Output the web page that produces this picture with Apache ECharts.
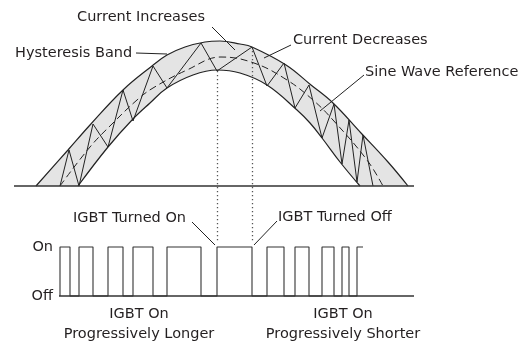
<!DOCTYPE html>
<html>
<head>
<meta charset="utf-8">
<script src="https://cdn.jsdelivr.net/npm/echarts@6/dist/echarts.min.js"></script>
<style>
  html, body { margin: 0; padding: 0; background: #fff; }
  #chart { width: 522px; height: 344px; }
</style>
</head>
<body>
<div id="chart"></div>
<script>
// x = time (arbitrary units), top panel y = current (arbitrary units), bottom panel y = IGBT state
var outerBand = [[22, 0], [54, 36], [76, 61], [109, 96], [138, 120], [153, 131], [171, 139], [191, 144],
  [206, 145], [226, 142], [238, 139], [272, 121], [297, 101], [319, 83], [347, 53], [374, 24], [394, 0]]
var innerBand = [[64, 0], [94, 39], [118, 66], [136, 83], [153, 98], [179, 111], [203, 116], [226, 113],
  [253, 101], [283, 76], [296, 63], [308, 48], [326, 24], [346, 0]]
var sineRef = [[46, 0], [76, 39], [99, 63], [123, 86], [139, 98], [173, 116], [207, 129], [240, 123],
  [273, 106], [299, 86], [319, 66], [353, 26], [369, 0]]
// actual current: rises while IGBT is on, falls while off
var currentTrace = [[46, 0], [55, 36], [65, 0], [79, 62], [94, 39], [109, 96], [119, 65], [139, 120],
  [153, 98], [187, 143], [203, 115], [238, 139], [253, 100], [270, 123], [281, 78], [295, 101],
  [308, 48], [320, 82], [328, 22], [335, 66], [343, 4], [349, 51], [359, 0]]
// on intervals [start, end]; the last one is drawn open
var pulsesOn = [[46, 56], [65, 79], [94, 109], [119, 139], [153, 187], [203, 238], [253, 270],
  [281, 295], [308, 320], [328, 335], [343, 349]]
var stateLabels = ['Off', 'On']
var offLine = [[45, 0], [400, 0]]
var baseLine = [[0, 0], [400, 0]]
var dottedFrom = [[203, 115], [238, 139]]   // turn-on / turn-off points
var dottedTo = -57

var leaders = [
  [[198, 159], [221, 136]],   // Current Increases
  [[122, 133], [153, 132]],   // Hysteresis Band
  [[277, 141], [250, 128]],   // Current Decreases
  [[350, 111], [306, 75]],    // Sine Wave Reference
  [[178, -36], [201, -59]],   // IGBT Turned On
  [[263, -35], [240, -59]]    // IGBT Turned Off
]

var FONT = '14.5px "DejaVu Sans", sans-serif'
var TXT = '#231f20'
var INK = '#222'

function buildPulses(list) {
  var pts = []
  list.forEach(function (p, i) {
    pts.push([p[0], 0], [p[0], 1], [p[1], 1])
    if (i < list.length - 1) pts.push([p[1], 0])
  })
  return pts
}

function label(text, x, y, align) {
  return {
    type: 'text', x: x, y: y, z: 100,
    style: {
      text: text, font: FONT, fill: TXT,
      align: align, textAlign: align,
      verticalAlign: 'middle', textVerticalAlign: 'middle'
    }
  }
}

var chart = echarts.init(document.getElementById('chart'))

var option = {
  animation: false,
  backgroundColor: '#fff',
  grid: [
    { left: 14, top: 20, width: 400, height: 227 },
    { left: 14, top: 247, width: 400, height: 49 }
  ],
  xAxis: [
    { gridIndex: 0, type: 'value', min: 0, max: 400, show: false },
    { gridIndex: 1, type: 'value', min: 0, max: 400, show: false }
  ],
  yAxis: [
    { gridIndex: 0, type: 'value', min: -61, max: 166, show: false },
    {
      gridIndex: 1, type: 'value', min: 0, max: 1, interval: 1, offset: -45,
      axisLine: { show: false }, axisTick: { show: false }, splitLine: { show: false },
      axisLabel: {
        margin: 6, fontSize: 14.5, color: TXT, fontFamily: '"DejaVu Sans", sans-serif',
        formatter: function (v) { return stateLabels[v] }
      }
    }
  ],
  series: [
    {
      name: 'upper band', type: 'line', xAxisIndex: 0, yAxisIndex: 0, z: 1,
      data: outerBand, smooth: 0.4, showSymbol: false, clip: false,
      lineStyle: { color: INK, width: 1.2 },
      areaStyle: { color: '#e4e4e4', opacity: 1 }
    },
    {
      name: 'lower band', type: 'line', xAxisIndex: 0, yAxisIndex: 0, z: 2,
      data: innerBand, smooth: 0.4, showSymbol: false, clip: false,
      lineStyle: { color: INK, width: 1.2 },
      areaStyle: { color: '#fff', opacity: 1 }
    },
    {
      name: 'sine reference', type: 'line', xAxisIndex: 0, yAxisIndex: 0, z: 3,
      data: sineRef, smooth: 0.4, showSymbol: false, clip: false,
      lineStyle: { color: INK, width: 1, type: [7, 4] }
    },
    {
      name: 'current', type: 'line', xAxisIndex: 0, yAxisIndex: 0, z: 4,
      data: currentTrace, showSymbol: false, clip: false,
      lineStyle: { color: INK, width: 1 }
    },
    {
      name: 'baseline', type: 'line', xAxisIndex: 0, yAxisIndex: 0, z: 5,
      data: baseLine, showSymbol: false, clip: false,
      lineStyle: { color: '#333', width: 1.6 }
    },
    {
      name: 'dotted', type: 'lines', coordinateSystem: 'cartesian2d', xAxisIndex: 0, yAxisIndex: 0, z: 4,
      data: dottedFrom.map(function (p) { return { coords: [p, [p[0], dottedTo]] } }),
      lineStyle: { color: '#555', width: 1.3, type: [1.3, 2.7], opacity: 1 }
    },
    {
      name: 'leaders', type: 'lines', coordinateSystem: 'cartesian2d', xAxisIndex: 0, yAxisIndex: 0, z: 6,
      data: leaders.map(function (l) { return { coords: l } }),
      lineStyle: { color: INK, width: 1, opacity: 1 }
    },
    {
      name: 'off line', type: 'line', xAxisIndex: 1, yAxisIndex: 1, z: 3,
      data: offLine, showSymbol: false, clip: false,
      lineStyle: { color: '#333', width: 1.6 }
    },
    {
      name: 'IGBT state', type: 'line', xAxisIndex: 1, yAxisIndex: 1, z: 4,
      data: buildPulses(pulsesOn), showSymbol: false, clip: false,
      lineStyle: { color: '#333', width: 1.1 }
    }
  ],
  graphic: [
    label('Current Increases', 141, 17, 'center'),
    label('Hysteresis Band', 15, 53, 'left'),
    label('Current Decreases', 293, 40, 'left'),
    label('Sine Wave Reference', 365, 72, 'left'),
    label('IGBT Turned On', 73, 218, 'left'),
    label('IGBT Turned Off', 278, 217, 'left'),
    label('IGBT On', 139, 314, 'center'),
    label('Progressively Longer', 139, 334, 'center'),
    label('IGBT On', 343, 314, 'center'),
    label('Progressively Shorter', 343, 334, 'center')
  ]
}

chart.setOption(option)
</script>
</body>
</html>
